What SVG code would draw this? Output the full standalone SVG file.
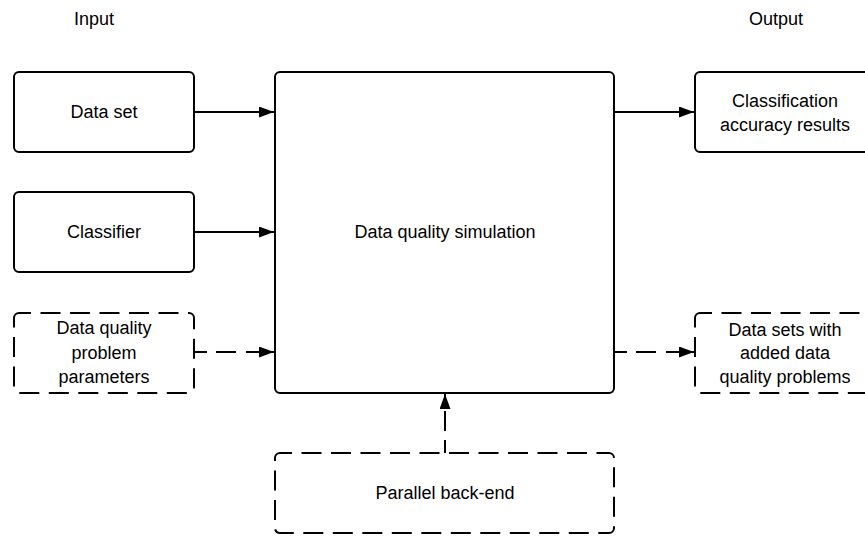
<svg xmlns="http://www.w3.org/2000/svg" width="865" height="536" viewBox="0 0 865 536">
<style>
.box{fill:#fff;stroke:#000;stroke-width:2}
.dash{stroke-dasharray:20 9.5;stroke-dashoffset:8}
.lbl{font-family:"Liberation Sans",Arial,sans-serif;font-size:18px;fill:#000;text-anchor:middle}
.ln{fill:none;stroke:#000;stroke-width:2}
.ldash{stroke-dasharray:13 9 20 10 20 10 20 10}
</style>
<defs>
<marker id="ah" viewBox="0 0 15 11" refX="15" refY="5.5" markerWidth="15" markerHeight="11" markerUnits="userSpaceOnUse" orient="auto">
<path d="M0,0 L15,5.5 L0,11 Z" fill="#000"/>
</marker>
</defs>
<rect width="865" height="536" fill="#fff"/>
<text class="lbl" x="94" y="25">Input</text>
<text class="lbl" x="776" y="25">Output</text>
<g id="dataset">
<rect class="box" x="14" y="72" width="180" height="80" rx="5"/>
<text class="lbl" x="104" y="118">Data set</text>
</g>
<g id="classifier">
<rect class="box" x="14" y="192" width="180" height="80" rx="5"/>
<text class="lbl" x="104" y="238">Classifier</text>
</g>
<g id="params">
<rect class="box dash" x="14" y="313" width="180" height="80" rx="5"/>
<text class="lbl" x="104" y="334">Data quality</text>
<text class="lbl" x="104" y="359">problem</text>
<text class="lbl" x="104" y="383">parameters</text>
</g>
<g id="simulation">
<rect class="box" x="275" y="72" width="339" height="321" rx="5"/>
<text class="lbl" x="445" y="238">Data quality simulation</text>
</g>
<g id="results">
<rect class="box" x="695" y="72" width="180" height="80" rx="5"/>
<text class="lbl" x="785" y="107">Classification</text>
<text class="lbl" x="785" y="131">accuracy results</text>
</g>
<g id="datasets-out">
<rect class="box dash" x="695" y="313" width="180" height="80" rx="5"/>
<text class="lbl" x="785" y="336">Data sets with</text>
<text class="lbl" x="785" y="359">added data</text>
<text class="lbl" x="785" y="383">quality problems</text>
</g>
<g id="backend">
<rect class="box dash" x="275" y="453" width="339" height="80" rx="5"/>
<text class="lbl" x="445" y="499">Parallel back-end</text>
</g>
<g id="connectors">
<line class="ln" x1="194" y1="112" x2="274" y2="112" marker-end="url(#ah)"/>
<line class="ln" x1="194" y1="232" x2="274" y2="232" marker-end="url(#ah)"/>
<line class="ln ldash" x1="194" y1="352" x2="263" y2="352"/>
<line class="ln" x1="260" y1="352" x2="274" y2="352" marker-end="url(#ah)"/>
<line class="ln" x1="614" y1="112" x2="694" y2="112" marker-end="url(#ah)"/>
<line class="ln ldash" x1="614" y1="352" x2="683" y2="352"/>
<line class="ln" x1="680" y1="352" x2="694" y2="352" marker-end="url(#ah)"/>
<line class="ln ldash" x1="445" y1="453" x2="445" y2="405"/>
<line class="ln" x1="445" y1="408" x2="445" y2="394" marker-end="url(#ah)"/>
</g>
</svg>
